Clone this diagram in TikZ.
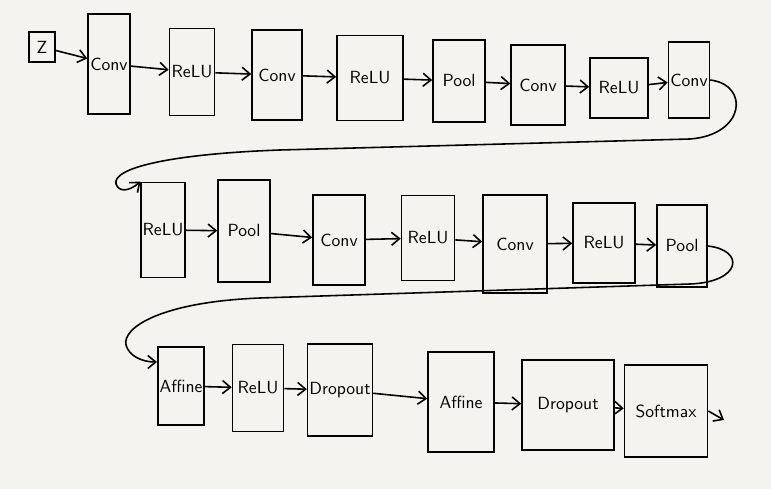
\documentclass[tikz,border=0pt]{standalone}
\usepackage{xcolor}
\usetikzlibrary{arrows.meta}
\definecolor{paper}{HTML}{F4F3EF}

\begin{document}
\begin{tikzpicture}[
    x=0.02cm, y=-0.02cm,
    every node/.style={font=\sffamily},
    lay/.style={draw,line width=0.9pt,inner sep=1pt,align=center},
    inp/.style={draw,line width=0.9pt,inner sep=1pt,minimum width=0.52cm,minimum height=0.6cm},
    line/.style={-{Straight Barb[length=1.6mm,width=2.6mm]},line width=0.9pt},
    wrap/.style={-{Straight Barb[length=1.6mm,width=2.6mm]},line width=0.9pt}
]

% paper
\fill[paper] (0,0) rectangle (771,489);
\useasboundingbox (0,0) rectangle (771,489);

% Row 1
\node[inp] (Z) at (42,47) {Z};
\node[lay,minimum width=0.84cm,minimum height=2.0cm]  (C1) at (109,64) {Conv};
\node[lay,minimum width=0.9cm, minimum height=1.74cm] (R1) at (192,72) {ReLU};
\node[lay,minimum width=1.0cm, minimum height=1.8cm]  (C2) at (277,75) {Conv};
\node[lay,minimum width=1.32cm,minimum height=1.7cm]  (R2) at (370,78) {ReLU};
\node[lay,minimum width=1.04cm,minimum height=1.64cm] (P1) at (459,81) {Pool};
\node[lay,minimum width=1.08cm,minimum height=1.6cm]  (C3) at (538,85) {Conv};
\node[lay,minimum width=1.16cm,minimum height=1.2cm]  (R3) at (619,88) {ReLU};
\node[lay,minimum width=0.82cm,minimum height=1.52cm] (C4) at (689,80) {Conv};

\draw[line] (Z) -- (C1);
\draw[line] (C1) -- (R1);
\draw[line] (R1) -- (C2);
\draw[line] (C2) -- (R2);
\draw[line] (R2) -- (P1);
\draw[line] (P1) -- (C3);
\draw[line] (C3) -- (R3);
\draw[line] (R3) -- (C4);

% Row 2
\node[lay,minimum width=0.74cm,minimum height=1.9cm]  (R4) at (163,230) {ReLU};
\node[lay,minimum width=1.04cm,minimum height=2.04cm] (P2) at (244,231) {Pool};
\node[lay,minimum width=1.04cm,minimum height=1.8cm]  (C5) at (339,240) {Conv};
\node[lay,minimum width=1.06cm,minimum height=1.7cm]  (R5) at (428,238) {ReLU};
\node[lay,minimum width=1.28cm,minimum height=1.96cm] (C6) at (515,244) {Conv};
\node[lay,minimum width=1.24cm,minimum height=1.6cm]  (R6) at (604,243) {ReLU};
\node[lay,minimum width=1.0cm, minimum height=1.64cm] (P3) at (682,246) {Pool};

% wrap to row 2
\draw[wrap] (C4.east) .. controls (750,85) and (745,135) .. (690,139)
    -- (280,150) .. controls (170,154) and (112,168) .. (116,184)
    .. controls (119,192) and (128,192) .. (R4.115);
\draw[line] (R4) -- (P2);
\draw[line] (P2) -- (C5);
\draw[line] (C5) -- (R5);
\draw[line] (R5) -- (C6);
\draw[line] (C6) -- (R6);
\draw[line] (R6) -- (P3);

% Row 3
\node[lay,minimum width=0.74cm,minimum height=1.56cm] (A1) at (181,386) {Affine};
\node[lay,minimum width=1.02cm,minimum height=1.74cm] (R7) at (258,388) {ReLU};
\node[lay,minimum width=1.24cm,minimum height=1.84cm] (D1) at (340,390) {Dropout};
\node[lay,minimum width=1.32cm,minimum height=2.0cm]  (A2) at (461,402) {Affine};
\node[lay,minimum width=1.84cm,minimum height=1.8cm]  (D2) at (568,405) {Dropout};
\node[lay,minimum width=1.66cm,minimum height=1.84cm] (S1) at (666,411) {Softmax};
\coordinate (out) at (724,420);

% wrap to row 3
\draw[wrap] (P3.east) .. controls (745,250) and (742,282) .. (690,284)
    -- (260,298) .. controls (160,302) and (122,328) .. (126,345)
    .. controls (129,356) and (142,362) .. (A1.135);
\draw[line] (A1) -- (R7);
\draw[line] (R7) -- (D1);
\draw[line] (D1) -- (A2);
\draw[line] (A2) -- (D2);
\draw[line] (D2) -- (S1);
\draw[line] (S1.east) -- (out);

\end{tikzpicture}
\end{document}
